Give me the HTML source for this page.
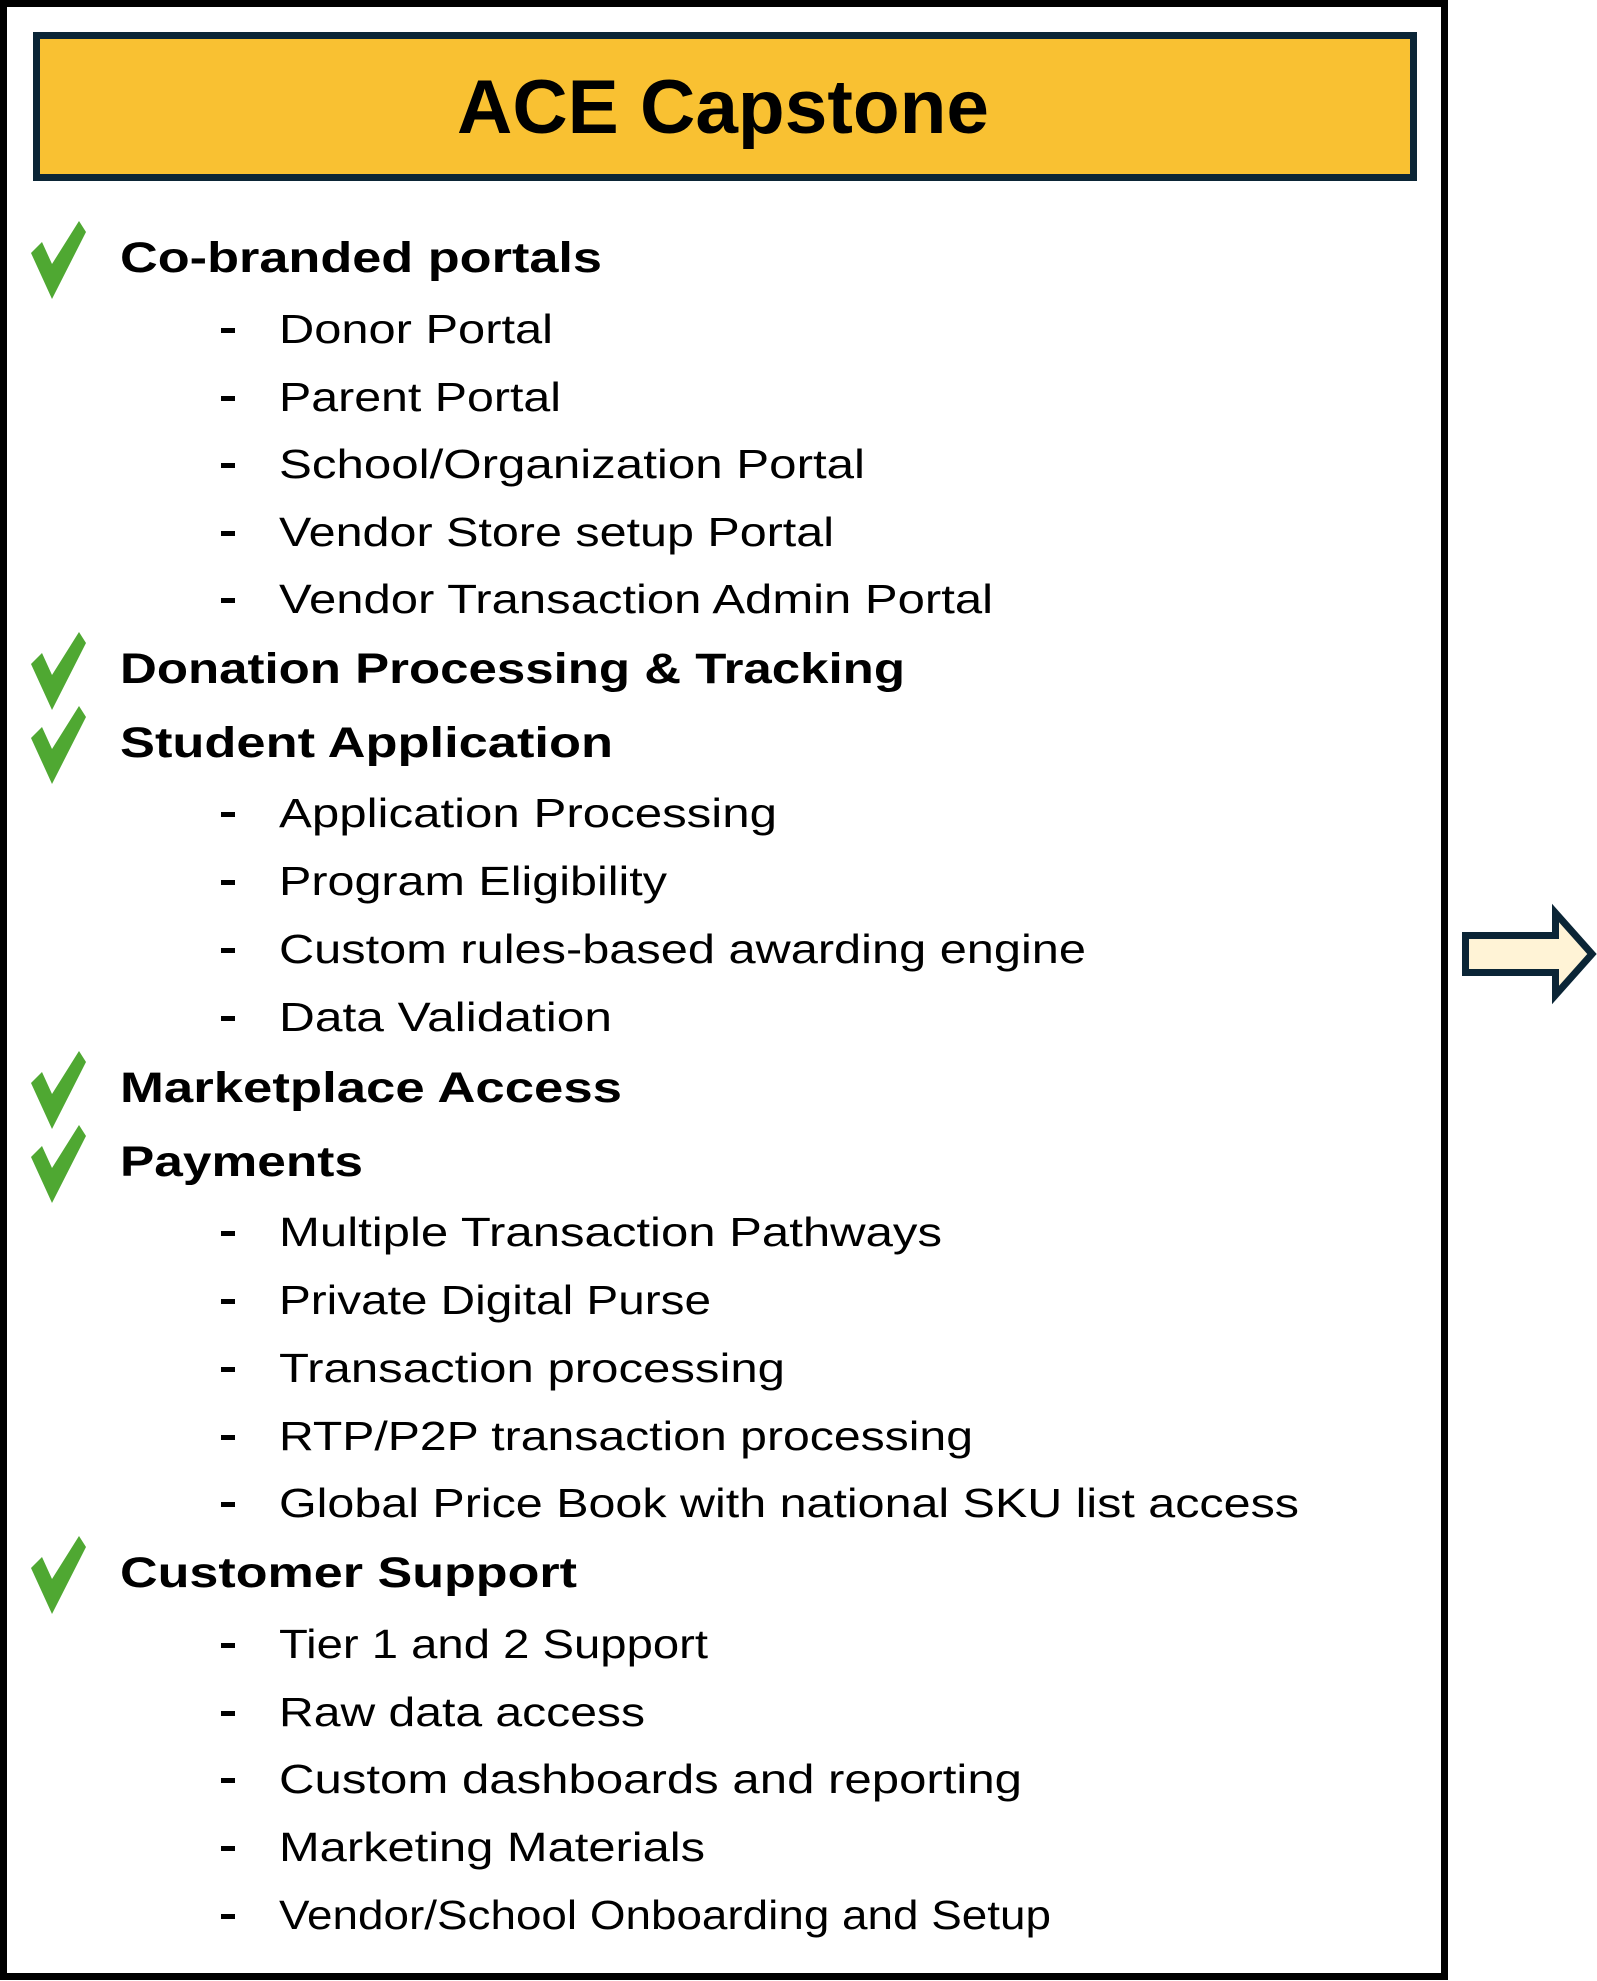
<!DOCTYPE html>
<html><head><meta charset="utf-8"><style>html,body{margin:0;padding:0;background:#fff}svg{display:block}</style></head>
<body>
<svg width="1597" height="1981" viewBox="0 0 1597 1981" xmlns="http://www.w3.org/2000/svg" font-family="Liberation Sans, sans-serif">
<rect x="0" y="0" width="1597" height="1981" fill="#fff"/>
<rect x="3.5" y="3.5" width="1441" height="1973" fill="none" stroke="#000" stroke-width="7"/>
<rect x="36.5" y="35.5" width="1377" height="142" fill="#f9c132" stroke="#0b2536" stroke-width="7"/>
<text x="457" y="133" font-size="76" font-weight="bold" textLength="532" lengthAdjust="spacingAndGlyphs">ACE Capstone</text>
<polygon points="1465.5,935.5 1555.5,935.5 1555.5,913 1592,954 1555.5,995 1555.5,972.5 1465.5,972.5" fill="#fff3d6" stroke="#0b2536" stroke-width="7" stroke-linejoin="miter"/>
<g fill="#4fa832">
<polygon transform="translate(0,256)" points="31,-3 42,-14 52,8 79,-35 86,-24 52,43"/>
<polygon transform="translate(0,667)" points="31,-3 42,-14 52,8 79,-35 86,-24 52,43"/>
<polygon transform="translate(0,741)" points="31,-3 42,-14 52,8 79,-35 86,-24 52,43"/>
<polygon transform="translate(0,1086)" points="31,-3 42,-14 52,8 79,-35 86,-24 52,43"/>
<polygon transform="translate(0,1160)" points="31,-3 42,-14 52,8 79,-35 86,-24 52,43"/>
<polygon transform="translate(0,1571)" points="31,-3 42,-14 52,8 79,-35 86,-24 52,43"/>
</g>
<g font-size="43" font-weight="bold" fill="#000">
<text x="120" y="272" textLength="482" lengthAdjust="spacingAndGlyphs">Co-branded portals</text>
<text x="120" y="683" textLength="785" lengthAdjust="spacingAndGlyphs">Donation Processing &amp; Tracking</text>
<text x="120" y="757" textLength="493" lengthAdjust="spacingAndGlyphs">Student Application</text>
<text x="120" y="1102" textLength="502" lengthAdjust="spacingAndGlyphs">Marketplace Access</text>
<text x="120" y="1176" textLength="243" lengthAdjust="spacingAndGlyphs">Payments</text>
<text x="120" y="1587" textLength="457" lengthAdjust="spacingAndGlyphs">Customer Support</text>
</g>
<g font-size="41" fill="#000">
<text x="279" y="343" textLength="274" lengthAdjust="spacingAndGlyphs">Donor Portal</text>
<text x="279" y="411" textLength="282" lengthAdjust="spacingAndGlyphs">Parent Portal</text>
<text x="279" y="478" textLength="586" lengthAdjust="spacingAndGlyphs">School/Organization Portal</text>
<text x="279" y="546" textLength="555" lengthAdjust="spacingAndGlyphs">Vendor Store setup Portal</text>
<text x="279" y="613" textLength="714" lengthAdjust="spacingAndGlyphs">Vendor Transaction Admin Portal</text>
<text x="279" y="827" textLength="498" lengthAdjust="spacingAndGlyphs">Application Processing</text>
<text x="279" y="895" textLength="388" lengthAdjust="spacingAndGlyphs">Program Eligibility</text>
<text x="279" y="963" textLength="807" lengthAdjust="spacingAndGlyphs">Custom rules-based awarding engine</text>
<text x="279" y="1031" textLength="333" lengthAdjust="spacingAndGlyphs">Data Validation</text>
<text x="279" y="1246" textLength="663" lengthAdjust="spacingAndGlyphs">Multiple Transaction Pathways</text>
<text x="279" y="1314" textLength="432" lengthAdjust="spacingAndGlyphs">Private Digital Purse</text>
<text x="279" y="1382" textLength="506" lengthAdjust="spacingAndGlyphs">Transaction processing</text>
<text x="279" y="1450" textLength="694" lengthAdjust="spacingAndGlyphs">RTP/P2P transaction processing</text>
<text x="279" y="1517" textLength="1020" lengthAdjust="spacingAndGlyphs">Global Price Book with national SKU list access</text>
<text x="279" y="1658" textLength="429" lengthAdjust="spacingAndGlyphs">Tier 1 and 2 Support</text>
<text x="279" y="1726" textLength="366" lengthAdjust="spacingAndGlyphs">Raw data access</text>
<text x="279" y="1793" textLength="743" lengthAdjust="spacingAndGlyphs">Custom dashboards and reporting</text>
<text x="279" y="1861" textLength="426" lengthAdjust="spacingAndGlyphs">Marketing Materials</text>
<text x="279" y="1929" textLength="772" lengthAdjust="spacingAndGlyphs">Vendor/School Onboarding and Setup</text>
</g>
<g fill="#000">
<rect x="221" y="328" width="14" height="5"/>
<rect x="221" y="396" width="14" height="5"/>
<rect x="221" y="463" width="14" height="5"/>
<rect x="221" y="531" width="14" height="5"/>
<rect x="221" y="598" width="14" height="5"/>
<rect x="221" y="812" width="14" height="5"/>
<rect x="221" y="880" width="14" height="5"/>
<rect x="221" y="948" width="14" height="5"/>
<rect x="221" y="1016" width="14" height="5"/>
<rect x="221" y="1231" width="14" height="5"/>
<rect x="221" y="1299" width="14" height="5"/>
<rect x="221" y="1367" width="14" height="5"/>
<rect x="221" y="1435" width="14" height="5"/>
<rect x="221" y="1502" width="14" height="5"/>
<rect x="221" y="1643" width="14" height="5"/>
<rect x="221" y="1711" width="14" height="5"/>
<rect x="221" y="1778" width="14" height="5"/>
<rect x="221" y="1846" width="14" height="5"/>
<rect x="221" y="1914" width="14" height="5"/>
</g>
</svg>
</body></html>
